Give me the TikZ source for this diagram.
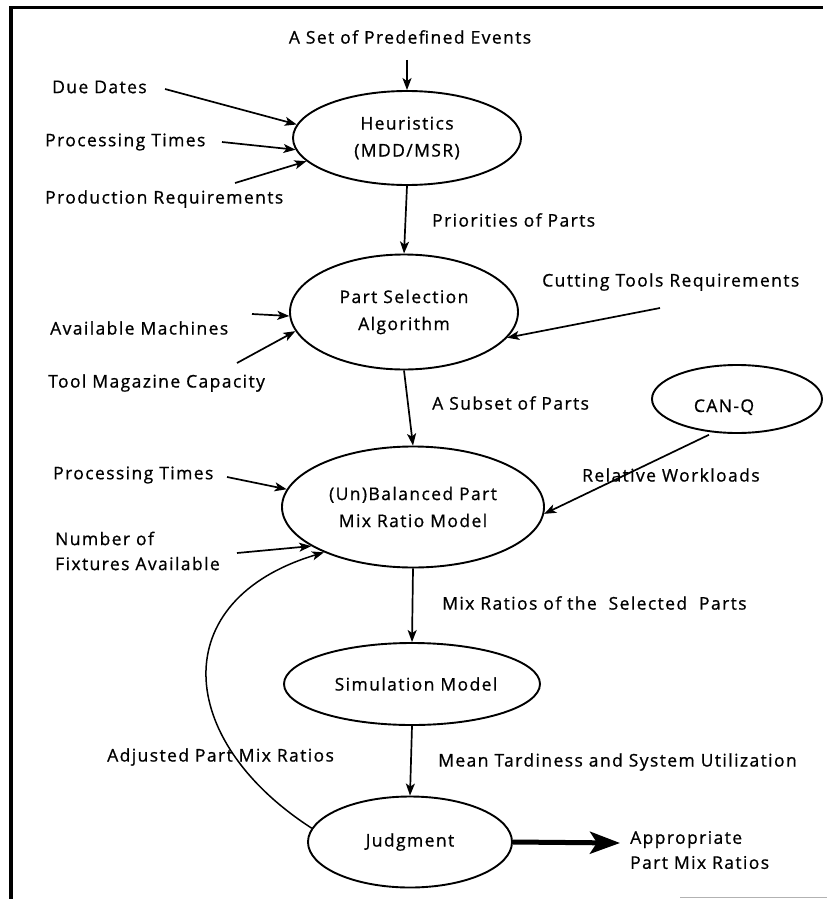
\documentclass[tikz,border=0pt]{standalone}
\usepackage{fontspec}
\setmainfont{Open Sans}[LetterSpace=8, FakeBold=0.8]
\usetikzlibrary{shapes.geometric,arrows.meta}
\begin{document}
\begin{tikzpicture}[x=1pt,y=1pt,
  txt/.style={font=\fontsize{17.5}{25}\selectfont, inner sep=0pt, align=left},
  proc/.style={ellipse, draw, line width=1.9pt, inner sep=0pt, align=center,
    font=\fontsize{17.5}{27}\selectfont},
  arr/.style={line width=1.7pt, -{Stealth[length=12pt,width=9pt,inset=3pt]}},
  bigarr/.style={line width=5pt, -{Stealth[length=30pt,width=22pt,inset=7pt]}}
]
\useasboundingbox (0,0) rectangle (827,-899);
% frame
\draw[line width=3pt] (9,-8) -- (823,-8);
\draw[line width=3.5pt] (11,-8) -- (11,-899);
\draw[line width=0.8pt, black!30] (680,-897) -- (827,-897);

% process ellipses
\node[proc, minimum width=228pt, minimum height=94pt] (heur) at (407,-138) {Heuristics\\(MDD/MSR)};
\node[proc, minimum width=228pt, minimum height=115pt] (psa) at (404,-312) {Part Selection\\Algorithm};
\node[proc, minimum width=170pt, minimum height=68pt, text depth=0pt] (canq) at (737,-399) {\raisebox{-13pt}{CAN-Q}\hspace{26pt}};
\node[proc, minimum width=262pt, minimum height=121pt] (ub) at (413,-507) {(Un)Balanced Part\\Mix Ratio Model};
\node[proc, minimum width=256pt, minimum height=82pt] (sim) at (412,-684) {\hspace{8pt}Simulation Model};
\node[proc, minimum width=204pt, minimum height=91pt] (jud) at (410,-842) {Judgment};

% texts
\node[txt] (ev) at (410,-37) {A Set of Predefined Events};
\node[txt, anchor=west] (due) at (52,-87) {Due Dates};
\node[txt, anchor=west] (pt1) at (45,-142) {Processing Times};
\node[txt, anchor=west] (prq) at (45,-199) {Production Requirements};
\node[txt, anchor=west] (prio) at (432,-220) {Priorities of Parts};
\node[txt, anchor=west] (am) at (50,-328) {Available Machines};
\node[txt, anchor=west] (tmc) at (48,-383) {Tool Magazine Capacity};
\node[txt, anchor=west] (ctr) at (542,-282) {Cutting Tools Requirements};
\node[txt, anchor=west] (sub) at (432,-403) {A Subset of Parts};
\node[txt, anchor=west] (rw) at (582,-475) {Relative Workloads};
\node[txt, anchor=west] (pt2) at (53,-475) {Processing Times};
\node[txt, anchor=west] (nf) at (55,-551) {Number of\\Fixtures Available};
\node[txt, anchor=west] (mr) at (442,-603) {Mix Ratios of the\ \ Selected\ \ Parts};
\node[txt, anchor=west] (mt) at (438,-762) {Mean Tardiness and System Utilization};
\node[txt, anchor=west] (adj) at (107,-757) {Adjusted Part Mix Ratios};
\node[txt, anchor=west] (apr) at (630,-850) {Appropriate\\Part Mix Ratios};

% free ends
\coordinate (evs) at (407,-60);
\coordinate (dues) at (165,-89);
\coordinate (pt1s) at (222,-142);
\coordinate (prqs) at (235,-183);
\coordinate (ams) at (252,-314);
\coordinate (tmcs) at (237,-363);
\coordinate (ctrs) at (660,-308);
\coordinate (pt2s) at (227,-477);
\coordinate (nfs) at (237,-553);
\coordinate (out) at (620,-843);

% connectors
\draw[arr] (evs) -- (heur.north);
\draw[arr] (dues) -- (heur.173);
\draw[arr] (pt1s) -- (heur.186);
\draw[arr] (prqs) -- (heur.193);
\draw[arr] (heur.south) -- (psa.north);
\draw[arr] (ams) -- (psa.182);
\draw[arr] (tmcs) -- (psa.190);
\draw[arr] (ctrs) -- (psa.346);
\draw[arr] (psa.south) -- (ub.north);
\draw[arr, shorten <=5pt] (canq.235) -- (ub.357);
\draw[arr] (pt2s) -- (ub.172);
\draw[arr] (nfs) -- (ub.201);
\draw[arr] (ub.south) -- (sim.north);
\draw[arr] (sim.south) -- (jud.north);
\draw[arr, line width=1.5pt] (jud.172) .. controls (175,-740) and (165,-600) .. (ub.207);
\draw[bigarr] (jud.east) -- (out);
\end{tikzpicture}
\end{document}
